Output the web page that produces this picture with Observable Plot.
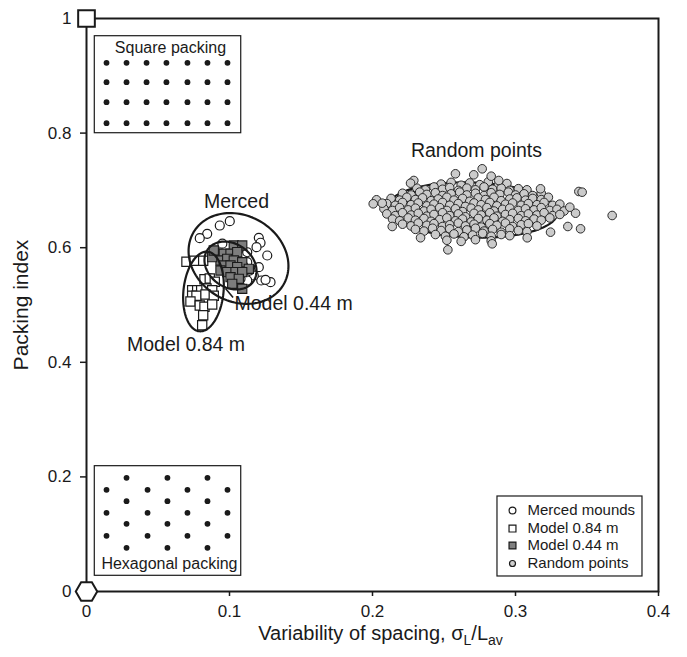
<!DOCTYPE html>
<html><head><meta charset="utf-8">
<script src="https://cdn.jsdelivr.net/npm/d3@7"></script>
<script src="https://cdn.jsdelivr.net/npm/@observablehq/plot@0.6"></script>
<style>
html,body{margin:0;padding:0;background:#fff;}
#chart svg{display:block;}
</style>
</head><body><div id="chart"></div>
<script>
// ---------- axis ticks ----------
const xTicks = [0, 0.1, 0.2, 0.3, 0.4];
const yTicks = [0, 0.2, 0.4, 0.6, 0.8, 1];
const xTitle = "Variability of spacing, σL/Lav";
const yTitle = "Packing index";

// ---------- reference packings (corner markers) ----------
const packingRefs = [
  {name: "Square", x: 0, y: 1},
  {name: "Hexagonal", x: 0, y: 0}
];

// ---------- series ----------
const mercedMounds = [
  [0.1002,0.6463],[0.0932,0.6387],[0.0844,0.6243],[0.0792,0.6166],[0.1205,0.6173],[0.1217,0.6086],
  [0.1189,0.6009],[0.1264,0.5864],[0.1205,0.5660],[0.1124,0.5921],[0.1124,0.5747],[0.1222,0.5428],
  [0.1287,0.5398],[0.1252,0.5440],[0.1170,0.5515],[0.1124,0.5428],[0.1077,0.5457],[0.0902,0.5934],
  [0.1065,0.5981],[0.1028,0.5515],[0.0867,0.5462],[0.1096,0.5689],[0.0950,0.6070],[0.1140,0.5600]
];
const model084 = [
  [0.0699,0.5754],[0.0755,0.5771],[0.0816,0.5771],[0.0825,0.5450],[0.0862,0.5462],[0.0897,0.5405],
  [0.0739,0.5258],[0.0774,0.5258],[0.0802,0.5258],[0.0839,0.5288],[0.0879,0.5258],[0.0739,0.5161],
  [0.0769,0.5161],[0.0832,0.5183],[0.0890,0.5161],[0.0727,0.5061],[0.0792,0.4990],[0.0825,0.4969],
  [0.0879,0.5009],[0.0816,0.4822],[0.0809,0.4647]
];
const model044 = [
  [0.1030,0.6038],[0.1089,0.6038],[0.0914,0.5894],[0.0960,0.5894],[0.1007,0.5894],[0.1054,0.5922],
  [0.0937,0.5777],[0.0984,0.5806],[0.1030,0.5777],[0.1089,0.5747],[0.0960,0.5689],[0.1007,0.5689],
  [0.1054,0.5660],[0.1135,0.5632],[0.0937,0.5602],[0.0984,0.5573],[0.1042,0.5573],[0.1089,0.5573],
  [0.1007,0.5485],[0.1065,0.5457],[0.1089,0.5283],[0.1019,0.5370],[0.0879,0.5835],[0.0890,0.5951]
];
const randomPoints = [
  [0.248,0.711],[0.255,0.714],[0.262,0.709],[0.268,0.713],[0.275,0.710],[0.281,0.715],[0.288,0.709],[0.294,0.712],
  [0.231,0.704],[0.237,0.701],[0.243,0.706],[0.249,0.702],[0.254,0.705],[0.260,0.700],[0.266,0.704],[0.272,0.701],
  [0.278,0.706],[0.284,0.702],[0.290,0.704],[0.296,0.700],[0.302,0.703],[0.308,0.701],
  [0.221,0.695],[0.227,0.692],[0.233,0.697],[0.238,0.693],[0.244,0.696],[0.249,0.691],[0.255,0.694],[0.261,0.697],
  [0.266,0.692],[0.272,0.695],[0.278,0.691],[0.283,0.696],[0.289,0.693],[0.295,0.697],[0.300,0.692],[0.306,0.694],
  [0.312,0.691],[0.318,0.695],
  [0.213,0.686],[0.219,0.683],[0.224,0.688],[0.230,0.684],[0.235,0.687],[0.241,0.682],[0.246,0.685],[0.252,0.688],
  [0.257,0.683],[0.263,0.686],[0.268,0.681],[0.274,0.687],[0.279,0.684],[0.285,0.688],[0.290,0.682],[0.296,0.685],
  [0.301,0.687],[0.307,0.683],[0.312,0.686],[0.318,0.684],[0.323,0.688],
  [0.210,0.677],[0.216,0.674],[0.221,0.679],[0.227,0.675],[0.232,0.678],[0.238,0.673],[0.243,0.676],[0.249,0.679],
  [0.254,0.674],[0.260,0.677],[0.265,0.672],[0.271,0.678],[0.276,0.675],[0.282,0.679],[0.287,0.673],[0.293,0.676],
  [0.298,0.678],[0.304,0.674],[0.309,0.677],[0.315,0.675],[0.320,0.679],[0.326,0.674],[0.331,0.676],
  [0.208,0.668],[0.214,0.665],[0.219,0.670],[0.225,0.666],[0.230,0.669],[0.236,0.664],[0.241,0.667],[0.247,0.670],
  [0.252,0.665],[0.258,0.668],[0.263,0.663],[0.269,0.669],[0.274,0.666],[0.280,0.670],[0.285,0.664],[0.291,0.667],
  [0.296,0.669],[0.302,0.665],[0.307,0.668],[0.313,0.666],[0.318,0.670],[0.324,0.665],[0.329,0.667],[0.334,0.664],
  [0.210,0.659],[0.216,0.656],[0.221,0.661],[0.227,0.657],[0.232,0.660],[0.238,0.655],[0.243,0.658],[0.249,0.661],
  [0.254,0.656],[0.260,0.659],[0.265,0.654],[0.271,0.660],[0.276,0.657],[0.282,0.661],[0.287,0.655],[0.293,0.658],
  [0.298,0.660],[0.304,0.656],[0.309,0.659],[0.315,0.657],[0.320,0.661],[0.326,0.656],[0.331,0.658],
  [0.214,0.650],[0.219,0.647],[0.225,0.652],[0.230,0.648],[0.236,0.651],[0.241,0.646],[0.247,0.649],[0.252,0.652],
  [0.258,0.647],[0.263,0.650],[0.269,0.645],[0.274,0.651],[0.280,0.648],[0.285,0.652],[0.291,0.646],[0.296,0.649],
  [0.302,0.651],[0.307,0.647],[0.313,0.650],[0.318,0.648],[0.324,0.652],
  [0.221,0.641],[0.227,0.638],[0.232,0.643],[0.238,0.639],[0.243,0.642],[0.249,0.637],[0.254,0.640],[0.260,0.643],
  [0.265,0.638],[0.271,0.641],[0.276,0.636],[0.282,0.642],[0.287,0.639],[0.293,0.643],[0.298,0.637],[0.304,0.640],
  [0.309,0.642],[0.315,0.638],
  [0.230,0.632],[0.236,0.629],[0.242,0.634],[0.248,0.630],[0.254,0.633],[0.260,0.628],[0.266,0.631],[0.272,0.634],
  [0.278,0.629],[0.284,0.632],[0.290,0.627],[0.296,0.633],[0.302,0.630],[0.308,0.628],
  [0.244,0.623],[0.251,0.620],[0.257,0.624],[0.264,0.619],[0.270,0.622],[0.277,0.625],[0.283,0.620],[0.290,0.623],[0.296,0.621],
  [0.252,0.613],[0.262,0.611],[0.272,0.614],[0.283,0.612],
  [0.2028,0.6836],[0.2005,0.6766],[0.2068,0.6777],[0.2767,0.7377],[0.2580,0.7290],[0.2708,0.7272],[0.2830,0.7248],
  [0.2883,0.7173],[0.2289,0.7173],[0.2266,0.7126],[0.3443,0.6981],[0.3466,0.6969],[0.3676,0.6562],[0.3455,0.6330],
  [0.3366,0.6370],[0.3245,0.6271],[0.3420,0.6602],[0.2527,0.5963],[0.2138,0.6370],[0.2336,0.6173],[0.2837,0.6068],
  [0.3082,0.6173],[0.3175,0.7028],[0.3380,0.6707]
];

// ---------- fitted ellipses (centre, semi-axes in data units, tilt in degrees) ----------
const ellipses = [
  {name: "Random points", cx: 0.2699, cy: 0.6658, a: 0.0594, b: 0.0480, angle: 2},
  {name: "Merced", cx: 0.1063, cy: 0.5812, a: 0.0364, b: 0.0750, angle: 30},
  {name: "Model 0.44 m", cx: 0.1007, cy: 0.5689, a: 0.0195, b: 0.0380, angle: 35},
  {name: "Model 0.84 m", cx: 0.0818, cy: 0.5236, a: 0.0140, b: 0.0698, angle: 6}
];

// ---------- annotations ----------
const centredLabels = [
  {text: "Random points", x: 0.2727, y: 0.7696},
  {text: "Merced", x: 0.1049, y: 0.6806},
  {text: "Model 0.84 m", x: 0.0696, y: 0.4310}
];
const startLabels = [
  {text: "Model 0.44 m", x: 0.1035, y: 0.5026}
];
const leader = [{x1: 0.0972, y1: 0.5288, x2: 0.1025, y2: 0.5131}];

// ---------- insets ----------
const squareInsetBox = {x1: 0.0058, x2: 0.1082, y1: 0.7998, y2: 0.9691};
const squareInsetCols = [0.0140, 0.0280, 0.0420, 0.0559, 0.0706, 0.0846, 0.0986];
const squareInsetRows = [0.9227, 0.8888, 0.8539, 0.8173];
const hexInsetBox = {x1: 0.0058, x2: 0.1082, y1: 0.0274, y2: 0.2187};
const hexOffsetCols = [0.0280, 0.0566, 0.0846];
const hexOffsetRows = [0.1984, 0.1576, 0.1181, 0.0763];
const hexNormalCols = [0.0140, 0.0427, 0.0706, 0.0986];
const hexNormalRows = [0.1775, 0.1373, 0.0972];
const insetLabels = [
  {text: "Square packing", x: 0.0587, y: 0.9482},
  {text: "Hexagonal packing", x: 0.0580, y: 0.0483}
];

// ---------- legend ----------
const legendBox = {x1: 0.2874, x2: 0.3888, y1: 0.0262, y2: 0.1658};
const legendItems = [
  {label: "Merced mounds", y: 0.1414, symbol: "circle", fill: "white", r: 3.4},
  {label: "Model 0.84 m", y: 0.1099, symbol: "square", fill: "white", r: 3.9},
  {label: "Model 0.44 m", y: 0.0803, symbol: "square", fill: "#808080", r: 3.9},
  {label: "Random points", y: 0.0489, symbol: "circle", fill: "#cfcfcf", r: 3.0}
];
const legendSymbolX = 0.2979, legendTextX = 0.3084;

// ---------- layout ----------
const W = 687, H = 657, mL = 86, mR = 29, mT = 18, mB = 66;
const xDomain = [0, 0.4], yDomain = [0, 1];
const kx = (W - mL - mR) / (xDomain[1] - xDomain[0]);
const ky = (H - mT - mB) / (yDomain[1] - yDomain[0]);

const ellipsePts = ellipses.flatMap(e => d3.range(120).map(i => {
  const t = i / 120 * 2 * Math.PI, th = e.angle * Math.PI / 180;
  const u = e.a * kx * Math.cos(t), v = e.b * ky * Math.sin(t);
  const px = u * Math.cos(th) - v * Math.sin(th);
  const py = u * Math.sin(th) + v * Math.cos(th);
  return {name: e.name, x: e.cx + px / kx, y: e.cy - py / ky};
}));

const squareDots = squareInsetRows.flatMap(y => squareInsetCols.map(x => ({x, y})));
const hexDots = hexOffsetRows.flatMap(y => hexOffsetCols.map(x => ({x, y})))
  .concat(hexNormalRows.flatMap(y => hexNormalCols.map(x => ({x, y}))));

const ink = "#1a1a1a";
const chart = Plot.plot({
  width: W, height: H,
  marginLeft: mL, marginRight: mR, marginTop: mT, marginBottom: mB,
  style: {fontFamily: "'Liberation Sans', Arial, Helvetica, sans-serif", fontSize: "17px", color: ink, background: "white"},
  x: {domain: xDomain},
  y: {domain: yDomain},
  marks: [
    // insets
    Plot.rect([squareInsetBox, hexInsetBox], {x1: "x1", x2: "x2", y1: "y1", y2: "y2", fill: "white", stroke: ink, strokeWidth: 1.2}),
    Plot.dot(squareDots, {x: "x", y: "y", r: 2.9, fill: ink, stroke: "none"}),
    Plot.dot(hexDots, {x: "x", y: "y", r: 2.9, fill: ink, stroke: "none"}),
    Plot.text(insetLabels, {x: "x", y: "y", text: "text", fontSize: 16, fill: ink}),
    // cluster points
    Plot.dot(mercedMounds, {x: d => d[0], y: d => d[1], r: 4.5, fill: "white", stroke: ink, strokeWidth: 1.2}),
    Plot.dot(model084, {x: d => d[0], y: d => d[1], symbol: "square", r: 5.2, fill: "white", stroke: ink, strokeWidth: 1.2}),
    Plot.dot(model044, {x: d => d[0], y: d => d[1], symbol: "square", r: 5.2, fill: "#7d7d7d", stroke: ink, strokeWidth: 1.1}),
    // ellipses
    Plot.line(ellipsePts, {x: "x", y: "y", z: "name", curve: "linear-closed", stroke: ink, strokeWidth: 2.2}),
    // random points
    Plot.dot(randomPoints, {x: d => d[0], y: d => d[1], r: 4.3, fill: "#cbcbcb", stroke: "#2a2a2a", strokeWidth: 1}),
    // leader + annotations
    Plot.link(leader, {x1: "x1", y1: "y1", x2: "x2", y2: "y2", stroke: ink, strokeWidth: 1.6}),
    Plot.text(centredLabels, {x: "x", y: "y", text: "text", textAnchor: "middle", fontSize: 19.5, fill: ink}),
    Plot.text(startLabels, {x: "x", y: "y", text: "text", textAnchor: "start", fontSize: 19.5, fill: ink}),
    // legend
    Plot.rect([legendBox], {x1: "x1", x2: "x2", y1: "y1", y2: "y2", fill: "white", stroke: ink, strokeWidth: 1.2}),
    ...legendItems.map(d => Plot.dot([d], {x: () => legendSymbolX, y: "y", symbol: d.symbol, r: d.r, fill: d.fill, stroke: ink, strokeWidth: 1.2})),
    Plot.text(legendItems, {x: () => legendTextX, y: "y", text: "label", textAnchor: "start", fontSize: 15, fill: ink}),
    // frame & axes
    Plot.frame({stroke: ink, strokeWidth: 2}),
    Plot.axisX({ticks: xTicks, tickFormat: d => String(d), tickSize: 5, tickPadding: 8, fontSize: 17, label: null, strokeWidth: 1.5}),
    Plot.axisY({ticks: yTicks, tickFormat: d => String(d), tickSize: 6, tickPadding: 9, fontSize: 17, label: yTitle, labelAnchor: "center", labelArrow: "none", labelOffset: 73, strokeWidth: 1.5}),
    Plot.text([xTitle], {frameAnchor: "bottom", dy: 48, dx: 8, text: d => d, fontSize: 20, fill: ink}),
    // corner markers
    Plot.dot(packingRefs.filter(d => d.name === "Square"), {x: "x", y: "y", symbol: "square", r: 9.4, fill: "white", stroke: ink, strokeWidth: 2}),
    Plot.dot(packingRefs.filter(d => d.name === "Hexagonal"), {x: "x", y: "y", symbol: "hexagon", rotate: 90, r: 9.3, fill: "white", stroke: ink, strokeWidth: 2})
  ]
});

// y-axis title font size
chart.querySelectorAll("text").forEach(t => {
  if (t.textContent === yTitle) t.setAttribute("font-size", "21");
});
// subscripts in the x title
chart.querySelectorAll("text").forEach(t => {
  if (t.textContent === xTitle) {
    t.textContent = "";
    const ns = "http://www.w3.org/2000/svg";
    const parts = [["Variability of spacing, σ", 0, null], ["L", 5, 14], ["/L", -5, null], ["av", 5, 14]];
    parts.forEach(([s, dy, fs]) => {
      const sp = document.createElementNS(ns, "tspan");
      sp.textContent = s;
      if (dy) sp.setAttribute("dy", dy);
      if (fs) sp.setAttribute("font-size", fs);
      t.appendChild(sp);
    });
  }
});
document.getElementById("chart").appendChild(chart);
</script>
</body></html>
